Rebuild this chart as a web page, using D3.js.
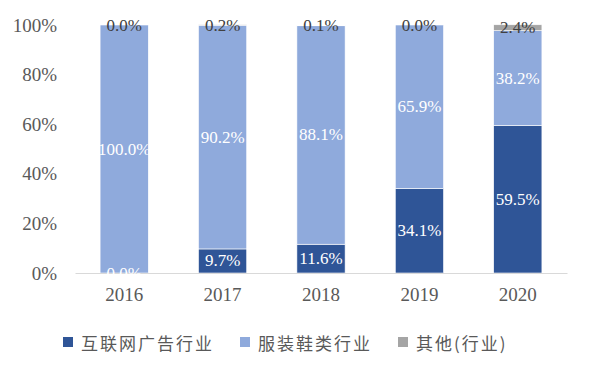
<!DOCTYPE html>
<html>
<head>
<meta charset="utf-8">
<script src="https://cdn.jsdelivr.net/npm/d3@7"></script>
<style>
  body { margin: 0; background: #fff; }
  svg text { font-family: "Liberation Serif", "DejaVu Serif", serif; }
</style>
</head>
<body>
<div id="chart"></div>
<script>
// data
const years = ["2016", "2017", "2018", "2019", "2020"];
const seriesNames = ["互联网广告行业", "服装鞋类行业", "其他(行业)"];
const internet = [0.0, 9.7, 11.6, 34.1, 59.5];
const apparel = [100.0, 90.2, 88.1, 65.9, 38.2];
const other = [0.0, 0.2, 0.1, 0.0, 2.4];
const yTicks = [0, 20, 40, 60, 80, 100];

const colors = ["#2F5597", "#8FAADC", "#A5A5A5"];
const labelColors = ["#ffffff", "#ffffff", "#404040"];

const width = 600, height = 365;
const margin = { top: 25, right: 33, bottom: 92, left: 75 };

const svg = d3.select("#chart")
  .append("svg")
    .attr("width", width)
    .attr("height", height);

const x = d3.scaleBand()
  .domain(years)
  .range([margin.left, width - margin.right])
  .paddingInner(0.51)
  .paddingOuter(0.255);

const y = d3.scaleLinear()
  .domain([0, 100])
  .range([height - margin.bottom, margin.top]);

// build rows for the stack
const rows = years.map((yr, i) => ({ year: yr, s0: internet[i], s1: apparel[i], s2: other[i] }));
const stack = d3.stack().keys(["s0", "s1", "s2"]);
const layers = stack(rows);

// y axis labels (no line)
const yAxis = svg.append("g")
  .attr("transform", `translate(${margin.left},0)`)
  .call(d3.axisLeft(y).tickValues(yTicks).tickFormat(d => d + "%").tickSize(0).tickPadding(18));
yAxis.select(".domain").remove();
yAxis.selectAll("text")
  .attr("font-size", 19)
  .attr("fill", "#595959")
  .style("font-family", "'Liberation Serif', serif");

// bars
layers.forEach((layer, k) => {
  svg.append("g")
    .selectAll("rect")
    .data(layer)
    .join("rect")
      .attr("x", d => x(d.data.year))
      .attr("width", x.bandwidth())
      .attr("y", d => y(d[1]))
      .attr("height", d => y(d[0]) - y(d[1]))
      .attr("fill", colors[k])
      .attr("stroke", "#ffffff")
      .attr("stroke-width", 0.6);
});

// x axis
const xAxis = svg.append("g")
  .attr("transform", `translate(0,${y(0)})`)
  .call(d3.axisBottom(x).tickSize(0).tickPadding(15));
xAxis.select(".domain").attr("stroke", "#D9D9D9").attr("stroke-width", 1.2);
xAxis.selectAll("text")
  .attr("font-size", 19)
  .attr("fill", "#595959")
  .style("font-family", "'Liberation Serif', serif");

// data labels
layers.forEach((layer, k) => {
  svg.append("g")
    .selectAll("text")
    .data(layer)
    .join("text")
      .attr("x", d => x(d.data.year) + x.bandwidth() / 2)
      .attr("y", d => (y(d[0]) + y(d[1])) / 2)
      .attr("text-anchor", "middle")
      .attr("dominant-baseline", "central")
      .attr("font-size", 17)
      .attr("fill", labelColors[k])
      .style("font-family", "'Liberation Serif', serif")
      .text(d => (d[1] - d[0]).toFixed(1) + "%");
});

// legend
const legendX = [63, 240, 398];
const legend = svg.append("g");
seriesNames.forEach((name, i) => {
  const g = legend.append("g").attr("transform", `translate(${legendX[i]},342)`);
  g.append("rect")
    .attr("x", 0).attr("y", -5)
    .attr("width", 10).attr("height", 10)
    .attr("fill", colors[i]);
  g.append("text")
    .attr("x", 18)
    .attr("y", 0)
    .attr("dominant-baseline", "central")
    .attr("font-size", 17)
    .attr("fill", "#595959")
    .style("font-family", "'Noto Sans CJK SC', sans-serif")
    .style("letter-spacing", "2px")
    .text(name);
});
</script>
</body>
</html>
